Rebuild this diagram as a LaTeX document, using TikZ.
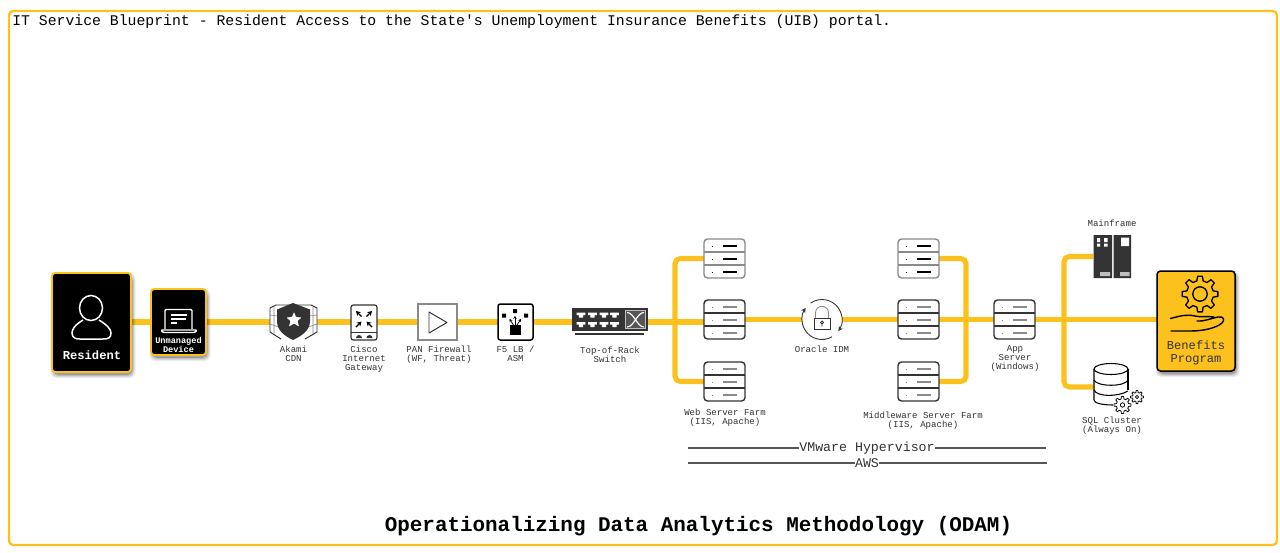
\documentclass[tikz,border=0pt]{standalone}
\usepackage{fontspec}
\setmainfont{Liberation Mono}[Ligatures=TeXOff]
\usetikzlibrary{backgrounds,arrows.meta}
\definecolor{uibyellow}{HTML}{FDC11E}
\definecolor{ink}{HTML}{333333}
\definecolor{rulegray}{HTML}{555555}
\definecolor{softgray}{HTML}{8A8A8A}
\newcommand{\softshadow}[4]{% x1 y1 x2 y2
  \foreach \sg/\so in {3/.07,2/.09,1/.12,0/.16}{
    \fill[black,opacity=\so,rounded corners=3pt] (#1+1.5-\sg,#2+3-\sg) rectangle (#3+1.5+\sg,#4+3+\sg);
  }}
\newcommand{\gearicon}[7]{% x y R rb n hole color
  \begin{scope}[shift={(#1,#2)}]
  \pgfmathsetmacro{\gstep}{360/#5}
  \pgfmathsetmacro{\gwa}{\gstep*0.30}
  \pgfmathsetmacro{\gwb}{\gstep*0.17}
  \draw[#7,line join=round,fill=none] (-\gwa:#4)
    \foreach \i in {1,...,#5}{
      \pgfextra{\pgfmathsetmacro{\ga}{(\i-1)*\gstep}}
      -- ({\ga-\gwa}:#4) -- ({\ga-\gwb}:#3) -- ({\ga+\gwb}:#3) -- ({\ga+\gwa}:#4)
    } -- cycle;
  \draw[#7] (0,0) circle[radius=#6];
  \end{scope}}
\newcommand{\servericon}[5]{% name x y outer inner
  \node[srv,draw=#4] (#1) at (#2+20.5,#3+19.5) {};
  \draw[#4,line width=.7pt] (#2,#3+13) -- (#2+41,#3+13) (#2,#3+26) -- (#2+41,#3+26);
  \draw[#5,line width=.6pt]
    (#2+19,#3+7) -- (#2+33,#3+7) (#2+19,#3+20) -- (#2+33,#3+20) (#2+19,#3+33) -- (#2+33,#3+33);
  \draw[#5,line width=.55pt]
    (#2+7.5,#3+7) -- (#2+9,#3+7) (#2+7.5,#3+20) -- (#2+9,#3+20) (#2+7.5,#3+33) -- (#2+9,#3+33);
}
\tikzset{
  x=0.02cm,y=-0.02cm,
  sized/.style 2 args={minimum width=#1*0.02cm,minimum height=#2*0.02cm,inner sep=0pt,outer sep=0pt},
  flow/.style={draw=uibyellow,line width=2.9pt},
  bus/.style={flow,rounded corners=3pt},
  cap8/.style={font=\fontsize{5.15}{5.1}\selectfont,text=ink,align=center,inner sep=0pt},
  darkcard/.style={fill=black,draw=uibyellow,line width=1.1pt,rounded corners=1.8pt},
  srv/.style={sized={41}{39},fill=white,rounded corners=2pt,line width=.8pt},
  rulel/.style={draw=rulegray,line width=1.2pt},
}
\begin{document}
\begin{tikzpicture}
\useasboundingbox (0,0) rectangle (1280,552);
\node[sized={1268}{534},draw=uibyellow,line width=1.3pt,rounded corners=2.5pt] (frame) at (643,278) {};
\node[anchor=west,inner sep=0pt,font=\fontsize{8.42}{9}\selectfont] (title) at (12,21.5)
  {IT Service Blueprint - Resident Access to the State's Unemployment Insurance Benefits (UIB) portal.};
\node[inner sep=0pt,font=\fontsize{11.9}{13}\selectfont\bfseries] (odam) at (698.5,526)
  {Operationalizing Data Analytics Methodology (ODAM)};
\coordinate (rail) at (0,322);
% --- resident
\softshadow{52}{273}{131}{372}
\node[sized={79}{99},darkcard] (resident) at (91.5,322.5) {};
\draw[white,line width=.85pt] (91,308) ellipse[x radius=11.5,y radius=12.5];
\draw[white,line width=.85pt] (83,320) .. controls (75,325) and (72,329) .. (72,333)
  .. controls (72,338) and (76,339) .. (80,339) -- (103,339)
  .. controls (108,339) and (111,338) .. (111,333) .. controls (111,329) and (107,325) .. (99,320);
\node[inner sep=0pt,text=white,font=\fontsize{6.9}{7}\selectfont\bfseries] (residentlbl) at (92,355) {Resident};
% --- device
\softshadow{151}{289}{206}{355}
\node[sized={55}{66},darkcard] (device) at (178.5,322) {};
\draw[white,line width=.8pt,rounded corners=.6pt] (165,329) -- (165,309.5) -- (192,309.5) -- (192,329);
\draw[white,line width=.8pt,rounded corners=.6pt] (161,330) -- (197,330) -- (195,332.5) -- (163,332.5) -- cycle;
\draw[white,line width=.85pt] (171,315) -- (187,315) (171,319) -- (186,319) (171,323) -- (177,323);
\node[inner sep=0pt,text=white,align=center,font=\fontsize{4.9}{5.1}\selectfont\bfseries] (devicelbl) at (178.5,344.5) {Unmanaged\\Device};
% --- akamai
\node[sized={47}{36}] (akami) at (293.5,321) {};
\fill[white] (270,308) -- (276,305) -- (311,305) -- (317,308) -- (317,332) -- (305,339) -- (281,339) -- (270,332) -- cycle;
\draw[ink,line width=.55pt,line join=round] (276,305) -- (270,308) -- (270,332) -- (281,339) (311,305) -- (317,308) -- (317,332) -- (305,339) (276,305) -- (311,305);
\draw[softgray,line width=.35pt] (270,315) -- (278,316) (270,324) -- (279,327) (317,315) -- (309,316) (317,324) -- (308,327) (274,307) -- (274,334) (313,307) -- (313,334);
\fill[ink] (293,303) -- (310,309.5) -- (310,321) .. controls (310,331) and (301,336) .. (293,340)
  .. controls (285,336) and (277,331) .. (277,321) -- (277,309.5) -- cycle;
\fill[white,rounded corners=.4pt] (294,312) -- (296,317) -- (301.5,317.5) -- (297.5,321) -- (299,326.5) -- (294,323.5) -- (289,326.5) -- (290.5,321) -- (286.5,317.5) -- (292,317) -- cycle;
\node[cap8] (akamilbl) at (293.5,353.5) {Akami\\CDN};
% --- cisco
\node[sized={26}{35},fill=white,draw=ink,line width=.7pt,rounded corners=1.3pt] (cisco) at (364,322.5) {};
\draw[ink,line width=.5pt] (351,332) -- (377,332);
\fill[ink] (356,338) arc[start angle=180,end angle=360,radius=3] -- cycle;
\fill[ink] (366.5,338) arc[start angle=180,end angle=360,radius=3] -- cycle;
\begin{scope}[black,line width=.75pt,-{Stealth[length=2.6pt,width=3pt]}]
\draw (361.5,316.5) -- (356,311);
\draw (366.5,316.5) -- (372,311);
\draw (356,327) -- (361.5,321.5);
\draw (372,327) -- (366.5,321.5);
\end{scope}
\node[cap8] (ciscolbl) at (364,359) {Cisco\\Internet\\Gateway};
% --- pan
\node[sized={39}{36},fill=white,draw=softgray,line width=.7pt] (pan) at (437.5,322) {};
\draw[ink,line width=.55pt,line join=round] (429,312) -- (447,322.5) -- (429,333) -- cycle;
\node[cap8] (panlbl) at (439,354.5) {PAN Firewall\\(WF, Threat)};
% --- f5
\node[sized={35}{36},fill=white,draw=black,line width=.85pt,rounded corners=1.3pt] (f5) at (515.5,322) {};
\fill[black] (502,313.5) rectangle (506,317.5) (513,309) rectangle (517,313) (524,313.5) rectangle (528,317.5);
\fill[black] (510,325) rectangle (521,335);
\begin{scope}[black,line width=.45pt,-{Stealth[length=1.6pt,width=2pt]}]
\draw (515,325) -- (515,316);
\draw (513.5,325) -- (509.5,319);
\draw (517,325) -- (521,319);
\end{scope}
\node[cap8] (f5lbl) at (515.5,353.5) {F5 LB /\\ASM};
% --- switch
\node[sized={76}{23},fill=ink] (switch) at (610,319.5) {};
\foreach \sx in {581,592.5,604,614.5}{
  \foreach \sy in {312.5,322}{
  \fill[white] (\sx-4.4,\sy) -- (\sx+4.4,\sy) -- (\sx+4.4,\sy+2.6) -- (\sx+2.2,\sy+2.6) -- (\sx+2.2,\sy+5) -- (\sx-2.2,\sy+5) -- (\sx-2.2,\sy+2.6) -- (\sx-4.4,\sy+2.6) -- cycle;
  }
}
\fill[rulegray] (625,310) rectangle (646,329);
\draw[lightgray,line width=.5pt] (625.3,310.3) rectangle (645.7,328.7);
\draw[white,line width=.65pt] (627,312.5) .. controls (634,312.5) and (637,327) .. (644,327)
  (627,327) .. controls (634,327) and (637,312.5) .. (644,312.5);
\draw[ink,line width=.8pt] (575,334) -- (644,334);
\node[cap8] (switchlbl) at (610,354.5) {Top-of-Rack\\Switch};
% --- web servers
\servericon{webA}{704}{239}{softgray}{black}
\servericon{webB}{704}{300}{ink}{softgray}
\servericon{webC}{704}{362}{ink}{softgray}
\node[cap8] (weblbl) at (725,418) {Web Server Farm\\(IIS, Apache)};
% --- idm
\node[sized={40}{40},circle] (idm) at (822,319.5) {};
\fill[white] (idm.center) circle[radius=20];
\draw[ink,line width=.5pt,-{Stealth[length=2.6pt,width=2.8pt]}] (idm.center) ++(-125:20) arc[start angle=-125,end angle=35,radius=20];
\draw[ink,line width=.5pt,-{Stealth[length=2.6pt,width=2.8pt]}] (idm.center) ++(60:20) arc[start angle=60,end angle=215,radius=20];
\draw[ink,line width=.5pt] (814,318) rectangle (830,329);
\draw[softgray,line width=.5pt] (815.5,318) -- (815.5,313) .. controls (815.5,304) and (828.5,304) .. (828.5,313) -- (828.5,318);
\draw[ink,line width=.5pt] (822,322.5) circle[radius=1.4] (822,324) -- (822,326.5);
\node[inner sep=0pt,cap8] (idmlbl) at (822,349) {Oracle IDM};
% --- middleware
\servericon{midA}{898}{239}{softgray}{black}
\servericon{midB}{898}{300}{ink}{softgray}
\servericon{midC}{898}{362}{ink}{softgray}
\node[cap8] (midlbl) at (923,420.5) {Middleware Server Farm\\(IIS, Apache)};
% --- app
\servericon{app}{994}{300}{ink}{softgray}
\node[cap8] (applbl) at (1015,358) {App\\Server\\(Windows)};
% --- mainframe
\node[sized={38}{43}] (mainframe) at (1112,256.5) {};
\fill[ink] (1093.5,235) rectangle (1112,278) (1113.5,235) rectangle (1131,278);
\fill[white] (1097,238) rectangle (1100,242) (1097,243.5) rectangle (1100,246.5)
  (1104,238) rectangle (1107.5,242) (1104,243.5) rectangle (1107.5,246.5)
  (1121,237.5) rectangle (1129,246);
\fill[lightgray] (1100,272) rectangle (1110,276) (1120,272) rectangle (1129.5,276);
\node[cap8] (mainframelbl) at (1112,223) {Mainframe};
% --- sql
\node[sized={36}{48}] (sql) at (1111,387) {};
\fill[white] (1094,369) rectangle (1128,400);
\draw[black,line width=.6pt] (1111,369) ellipse[x radius=17,y radius=5.5];
\draw[black,line width=.6pt] (1094,369) -- (1094,400) .. controls (1094,403) and (1102,405) .. (1113,405);
\draw[black,line width=.6pt] (1128,369) -- (1128,390);
\draw[black,line width=.6pt] (1094,380) .. controls (1097,387) and (1125,387) .. (1128,380);
\draw[black,line width=.6pt] (1094,390) .. controls (1097,397) and (1118,397) .. (1128,391);
\fill[white] (1122,405) circle[radius=9] (1137,397) circle[radius=7];
\gearicon{1122.5}{405}{8.5}{6.2}{8}{2.2}{black,line width=.45pt}
\gearicon{1137}{397}{6.5}{4.6}{8}{1.6}{black,line width=.45pt}
\node[cap8] (sqllbl) at (1112,425.5) {SQL Cluster\\(Always On)};
% --- benefits
\softshadow{1157}{271}{1235}{371}
\node[sized={78}{100},fill=uibyellow,draw=black,line width=.85pt,rounded corners=2pt] (benefits) at (1196,321) {};
\gearicon{1200}{294}{18}{13.5}{8}{7.2}{black,line width=.75pt}
\draw[black,line width=.8pt,line cap=round,line join=round]
  (1170.5,318.5) .. controls (1180,316) and (1186,314) .. (1195,316) .. controls (1203,317.5) and (1208,316) .. (1214,317)
  (1197,321) .. controls (1205,321.5) and (1212,318) .. (1218,317) .. controls (1224,316) and (1225,320) .. (1222,323)
  .. controls (1216,328) and (1204,331) .. (1190,331) -- (1171,331);
\node[inner sep=0pt,align=center,text=ink,font=\fontsize{6.9}{7.1}\selectfont] (benefitslbl) at (1196,353) {Benefits\\Program};
% --- hypervisor rules
\node[inner sep=0pt,text=ink,font=\fontsize{7.55}{8}\selectfont] (vmware) at (867,448) {VMware Hypervisor};
\node[inner sep=0pt,text=ink,font=\fontsize{7.55}{8}\selectfont] (aws) at (867,463) {AWS};
\coordinate (vmL) at (688,448);\coordinate (vmR) at (1046,448);
\coordinate (awsL) at (688,463);\coordinate (awsR) at (1047,463);
\draw[rulel] (vmL) -- (vmware.west);
\draw[rulel] (vmware.east) -- (vmR);
\draw[rulel] (awsL) -- (aws.west);
\draw[rulel] (aws.east) -- (awsR);
% --- connectors
\begin{pgfonlayer}{background}
\coordinate (busA) at (675,320);
\coordinate (busB) at (966,320);
\coordinate (busC) at (1064,320);
\draw[flow] (resident.east |- rail) -- (device.west |- rail);
\draw[flow] (device.east |- rail) -- (akami.west |- rail);
\draw[flow] (akami.east |- rail) -- (cisco.west |- rail);
\draw[flow] (cisco.east |- rail) -- (pan.west |- rail);
\draw[flow] (pan.east |- rail) -- (f5.west |- rail);
\draw[flow] (f5.east |- rail) -- (switch.west |- rail);
\draw[flow] (switch.east |- rail) -- (webB.west |- rail);
\draw[bus] (webA.west) -| (busA) |- (webC.west);
\draw[flow] (webB.east) -- (idm.west);
\draw[flow] (idm.east) -- (midB.west);
\draw[flow] (midB.east) -- (app.west);
\draw[bus] (midA.east) -| (busB) |- (midC.east);
\draw[flow] (app.east) -- (benefits.west |- app.east);
\draw[bus] (mainframe.west) -| (busC) |- (sql.west);
\end{pgfonlayer}
\end{tikzpicture}
\end{document}
